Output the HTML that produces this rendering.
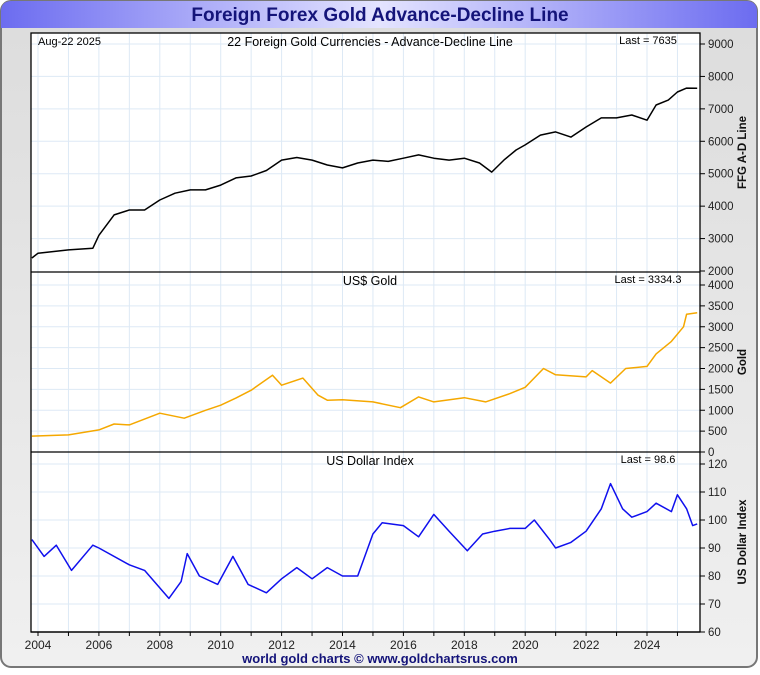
<!DOCTYPE html>
<html><head><meta charset="utf-8"><style>
body{margin:0;background:#fff;font-family:"Liberation Sans",sans-serif;}
svg text{font-family:"Liberation Sans",sans-serif;}
</style></head><body>
<svg id="c" width="760" height="670" xmlns="http://www.w3.org/2000/svg">
<defs>
<linearGradient id="tg" x1="0" x2="1" y1="0" y2="0">
<stop offset="0" stop-color="#6c6cf0"/><stop offset="0.5" stop-color="#e4e4ff"/><stop offset="1" stop-color="#6c6cf0"/></linearGradient>
<linearGradient id="bg" x1="0" x2="0" y1="0" y2="1">
<stop offset="0" stop-color="#dcdcdc"/><stop offset="1" stop-color="#f0f0f0"/></linearGradient>
</defs>
<rect x="1" y="1" width="756" height="666" rx="10" fill="url(#bg)" stroke="#777" stroke-width="2"/>
<path d="M1,28 V12 Q1,1 12,1 H746 Q757,1 757,12 V28 Z" fill="url(#tg)"/>
<text x="380" y="21" text-anchor="middle" font-size="19" font-weight="bold" fill="#14147a">Foreign Forex Gold Advance-Decline Line</text>
<rect x="31" y="33" width="669" height="599" fill="#fff"/>
<g id="grid"></g><g id="series"></g><g id="axes"></g>
<text x="380" y="663" text-anchor="middle" font-size="13" font-weight="bold" fill="#14147a">world gold charts © www.goldchartsrus.com</text>
</svg>
<script>
const years=[2004,2006,2008,2010,2012,2014,2016,2018,2020,2022,2024];
const adT=[2003.8,2004,2005,2005.8,2006,2006.5,2007,2007.5,2008,2008.5,2009,2009.5,2010,2010.5,2011,2011.5,2012,2012.5,2013,2013.5,2014,2014.5,2015,2015.5,2016,2016.5,2017,2017.5,2018,2018.5,2018.9,2019.3,2019.7,2020,2020.5,2021,2021.5,2022,2022.5,2023,2023.5,2024,2024.3,2024.7,2025,2025.3,2025.65];
const adV=[2400,2550,2650,2700,3100,3730,3880,3880,4190,4400,4500,4500,4650,4870,4930,5100,5420,5500,5420,5270,5180,5330,5420,5380,5480,5580,5480,5420,5480,5330,5050,5420,5730,5890,6190,6290,6130,6440,6720,6720,6810,6650,7120,7270,7520,7640,7635];
const gT=[2003.8,2005,2006,2006.5,2007,2008,2008.8,2009.5,2010,2010.5,2011,2011.7,2012,2012.7,2013.2,2013.5,2014,2015,2015.9,2016.5,2017,2018,2018.7,2019.5,2020,2020.6,2021,2022,2022.2,2022.8,2023.3,2024,2024.3,2024.8,2025.2,2025.3,2025.65];
const gV=[380,410,530,670,650,930,810,1000,1120,1290,1480,1840,1600,1770,1360,1240,1250,1200,1060,1320,1200,1300,1200,1400,1550,2000,1850,1800,1950,1650,2000,2050,2350,2650,3000,3300,3334];
const uT=[2003.8,2004.2,2004.6,2005.1,2005.8,2006,2007,2007.5,2008.3,2008.7,2008.9,2009.3,2009.9,2010.4,2010.9,2011.5,2012,2012.5,2013,2013.5,2014,2014.5,2015,2015.3,2016,2016.5,2017,2017.5,2018.1,2018.6,2019,2019.5,2020,2020.3,2020.8,2021,2021.5,2022,2022.5,2022.8,2023.2,2023.5,2024,2024.3,2024.8,2025,2025.3,2025.5,2025.65];
const uV=[93,87,91,82,91,90,84,82,72,78,88,80,77,87,77,74,79,83,79,83,80,80,95,99,98,94,102,96,89,95,96,97,97,100,93,90,92,96,104,113,104,101,103,106,103,109,104,98,98.6];
const adTicks=[2000,3000,4000,5000,6000,7000,8000,9000];
const gTicks=[0,500,1000,1500,2000,2500,3000,3500,4000];
const uTicks=[60,70,80,90,100,110,120];
const NS="http://www.w3.org/2000/svg";
const X=t=>38+(t-2004)*30.45;
const panels=[
 {name:'ad',top:33,bot:272,y:v=>44+(9000-v)*0.03243,T:adT,V:adV,ticks:adTicks,col:'#000',title:'22 Foreign Gold Currencies - Advance-Decline Line',last:'Last = 7635',label:'FFG A-D Line'},
 {name:'gold',top:272,bot:452,y:v=>452-v*0.04175,T:gT,V:gV,ticks:gTicks,col:'#f5a800',title:'US$ Gold',last:'Last = 3334.3',label:'Gold'},
 {name:'usd',top:452,bot:632,y:v=>632-(v-60)*2.8,T:uT,V:uV,ticks:uTicks,col:'#1010ee',title:'US Dollar Index',last:'Last = 98.6',label:'US Dollar Index'}];
function mk(tag,attrs,parent,txt){const e=document.createElementNS(NS,tag);for(const k in attrs)e.setAttribute(k,attrs[k]);if(txt!==undefined)e.textContent=txt;document.getElementById(parent).appendChild(e);return e;}
for(let yr=2004;yr<=2025;yr++){const g=mk('line',{x1:X(yr),x2:X(yr),y1:33,y2:632,stroke:'#dde9f5','stroke-width':1},'grid');

const tk=mk('line',{x1:X(yr),x2:X(yr),y1:632,y2:636,stroke:'#000'},'axes');
}
years.forEach(yr=>{const t=mk('text',{x:X(yr),y:649,'text-anchor':'middle','font-size':12,fill:'#222'},'axes',String(yr));
});
panels.forEach(p=>{
 p.ticks.forEach(v=>{const yy=p.y(v);
  if(yy>p.top+1&&yy<p.bot-1){const gl=mk('line',{x1:31,x2:700,y1:yy,y2:yy,stroke:'#dde9f5'},'grid');
  }
  const tk=mk('line',{x1:700,x2:705,y1:yy,y2:yy,stroke:'#000'},'axes');
  
  const tl=mk('text',{x:708,y:yy+4,'font-size':11.5,fill:'#222'},'axes',String(v));
  });
 const pts=p.T.map((t,i)=>X(t).toFixed(1)+','+p.y(p.V[i]).toFixed(1)).join(' ');
 const pl=mk('polyline',{points:pts,fill:'none',stroke:p.col,'stroke-width':1.5,'stroke-linejoin':'round'},'series');
 
 const tt=mk('text',{x:370,y:p.top+13,'text-anchor':'middle','font-size':12.5,fill:'#000'},'axes',p.title);
 
 const ls=mk('text',{x:648,y:p.top+11,'text-anchor':'middle','font-size':11,fill:'#000'},'axes',p.last);
 
 const cy=(p.top+p.bot)/2;
 const yl=mk('text',{x:746,y:cy,'text-anchor':'middle','font-size':11.5,'font-weight':'bold',fill:'#111',transform:'rotate(-90 746 '+cy+')'},'axes',p.label);
 
 const bl=mk('line',{x1:31,x2:700,y1:p.bot,y2:p.bot,stroke:'#000','stroke-width':1.3},'axes');
 
});
const dt=mk('text',{x:38,y:45,'font-size':11,fill:'#000'},'axes','Aug-22  2025');

const fr=mk('rect',{x:31,y:33,width:669,height:599,fill:'none',stroke:'#000','stroke-width':1.3},'axes');

</script>
</body></html>
